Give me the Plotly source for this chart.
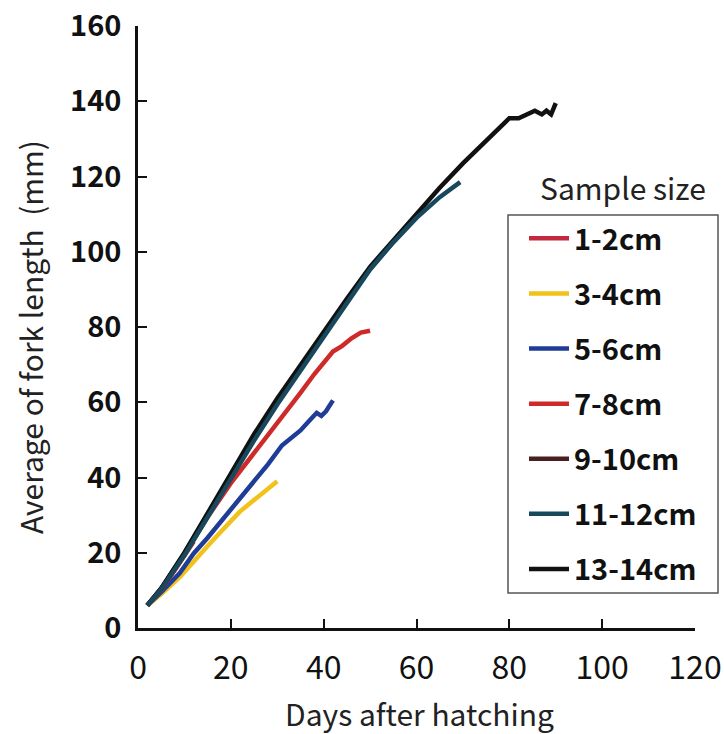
import plotly.graph_objects as go

# Growth of mean fork length by sample-size group (days after hatching, mm)
labels = ["1-2cm", "3-4cm", "5-6cm", "7-8cm", "9-10cm", "11-12cm", "13-14cm"]
colors = ["#c4283e", "#f2c21a", "#1f3d96", "#cf2a2a", "#4a1f22", "#17485c", "#111111"]

days_12 = [2, 5, 8, 10, 12]
fl_12 = [6, 10.2, 15.5, 19.2, 23]

days_34 = [2, 5, 9, 12, 15, 18, 20, 22, 25, 28, 30]
fl_34 = [6, 9, 13.5, 17.8, 21.8, 25.8, 28.5, 31, 34, 37, 39]

days_56 = [2, 5, 9, 12, 15, 20, 24, 28, 31, 33, 35, 37, 38.5, 39.5, 40.5, 42]
fl_56 = [6, 9.5, 14.6, 19.8, 24, 31.5, 37.5, 43.5, 48.5, 50.5, 52.5, 55.2, 57.2, 56.4, 57.6, 60.5]

days_78 = [2, 5, 10, 15, 20, 25, 28, 31, 35, 38, 40, 42, 44, 46, 48, 50]
fl_78 = [6, 10.5, 19.5, 29.5, 38.5, 46.5, 51, 56, 62.5, 67.5, 70.5, 73.5, 75, 77, 78.5, 79]

days_910 = [2, 5, 10, 15, 20, 25, 30, 35, 40, 45, 50, 55, 58]
fl_910 = [6, 10.5, 19.8, 30.2, 40.6, 51, 60.6, 69.6, 78.2, 87, 95.5, 102.6, 106.6]

days_1112 = [2, 5, 10, 15, 20, 25, 30, 35, 40, 45, 50, 55, 60, 65, 69.4]
fl_1112 = [6, 10.3, 19.3, 29.6, 39.8, 49.8, 59.4, 68.5, 77.5, 86.5, 95.3, 102.5, 109, 114.5, 118.5]

days_1314 = [2, 5, 10, 15, 20, 25, 30, 35, 40, 45, 50, 55, 60, 65, 70, 75, 78, 80,
             82, 84, 85.5, 87, 88, 89, 90]
fl_1314 = [6, 10.5, 20, 30.5, 41, 51.5, 61, 70, 78.5, 87.5, 96, 103, 110, 117, 123.5,
           129.5, 133.5, 135.5, 135.5, 136.5, 137.5, 136.5, 137.5, 136.5, 139.5]

series = [
    (days_12, fl_12), (days_34, fl_34), (days_56, fl_56), (days_78, fl_78),
    (days_910, fl_910), (days_1112, fl_1112), (days_1314, fl_1314),
]

x_ticks = [0, 20, 40, 60, 80, 100, 120]
y_ticks = [0, 20, 40, 60, 80, 100, 120, 140, 160]

JP = "Noto Sans CJK JP"

fig = go.Figure()

# drawing order: shorter curves first, the long black curve under the teal one
draw_order = [1, 2, 0, 3, 4, 6, 5]
for i in draw_order:
    xs, ys = series[i]
    fig.add_trace(go.Scatter(
        x=xs, y=ys, mode="lines", name=labels[i],
        line=dict(color=colors[i], width=4.5),
        legendgroup=labels[i], legendrank=i + 1,
    ))

L, R, T, B = 138, 29, 26, 106
W, H = 724, 734
pw, ph = W - L - R, H - T - B


def px(x):
    return (x - L) / pw


def py(y):
    return (H - B - y) / ph


fig.update_layout(
    width=W, height=H,
    margin=dict(l=L, r=R, t=T, b=B, autoexpand=False),
    paper_bgcolor="white", plot_bgcolor="white",
    showlegend=True,
    legend=dict(
        x=px(524), y=py(213), xanchor="left", yanchor="top",
        font=dict(family=JP, size=29, color="#111", weight="bold"),
        tracegroupgap=14.4, bgcolor="rgba(0,0,0,0)", borderwidth=0,
        traceorder="grouped", itemwidth=40,
    ),
    xaxis=dict(
        range=[0, 120], tickvals=x_ticks, ticktext=[str(v) for v in x_ticks],
        showline=True, linecolor="#111", linewidth=2.5, mirror=False,
        ticks="inside", ticklen=9, tickwidth=2, tickcolor="#111",
        showgrid=False, zeroline=False, automargin=False,
        tickfont=dict(family=JP, size=32, color="#111"),
        ticklabelstandoff=10,
    ),
    yaxis=dict(
        range=[0, 160], tickvals=y_ticks, ticktext=[str(v) for v in y_ticks],
        showline=True, linecolor="#111", linewidth=2.5, mirror=False,
        ticks="inside", ticklen=9, tickwidth=2, tickcolor="#111",
        showgrid=False, zeroline=False, automargin=False,
        tickfont=dict(family=JP, size=29, color="#111", weight="bold"),
        ticklabelstandoff=8,
    ),
    shapes=[
        dict(type="rect", xref="paper", yref="paper",
             x0=px(508), x1=px(718), y0=py(593), y1=py(215),
             line=dict(color="#555", width=1.5), fillcolor="rgba(0,0,0,0)"),
    ],
    annotations=[
        dict(text="Sample size", xref="paper", yref="paper", x=px(623), y=py(187),
             xanchor="center", yanchor="middle", showarrow=False,
             font=dict(family=JP, size=30, color="#222")),
        dict(text="Average of fork length  (mm)", xref="paper", yref="paper",
             x=px(30), y=py(337), xanchor="center", yanchor="middle",
             textangle=-90, showarrow=False,
             font=dict(family=JP, size=30, color="#222")),
        dict(text="Days after hatching", xref="paper", yref="paper",
             x=px(420), y=py(713), xanchor="center", yanchor="middle",
             showarrow=False, font=dict(family=JP, size=30, color="#222")),
    ],
)

fig.write_html("out.html")
